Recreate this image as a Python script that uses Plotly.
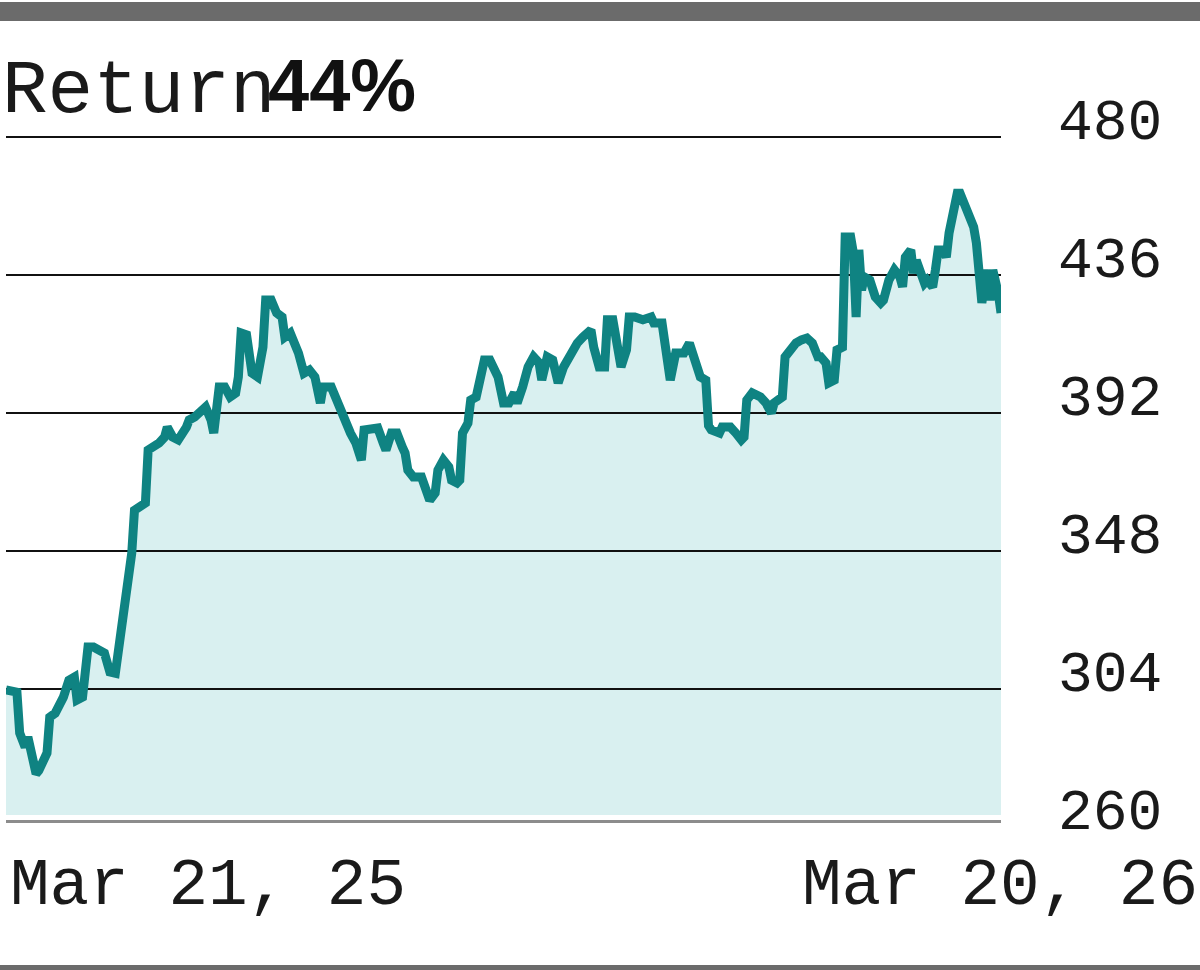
import pandas as pd
import plotly.graph_objects as go

# one year of closes (days counted from the first session)
START = pd.Timestamp("2025-03-21")
day_offsets = [
    0, 4, 5, 7, 8, 11, 12, 15, 16, 18, 21, 23, 25, 26, 28, 30, 32, 34, 36, 38,
    40, 42, 44, 46, 47, 49, 51, 52, 54, 56, 58, 59, 61, 63, 66, 67, 69, 71, 73, 75,
    76, 78, 80, 82, 84, 85, 86, 88, 90, 92, 94, 95, 97, 99, 101, 102, 104, 107, 109, 111,
    113, 115, 116, 119, 122, 124, 126, 128, 130, 131, 134, 136, 138, 139, 141, 143, 145, 146, 147, 149,
    152, 153, 155, 157, 158, 160, 162, 163, 165, 166, 167, 169, 170, 172, 174, 175, 177, 178, 180, 182,
    184, 186, 187, 189, 191, 193, 195, 196, 198, 200, 202, 204, 206, 209, 211, 214, 215, 217, 219, 220,
    222, 224, 225, 227, 228, 230, 233, 236, 237, 240, 241, 243, 245, 248, 250, 252, 254, 256, 257, 258,
    261, 262, 265, 267, 269, 270, 271, 273, 276, 278, 280, 281, 284, 285, 287, 289, 291, 293, 295, 297,
    298, 300, 301, 303, 304, 306, 307, 309, 310, 311, 312, 313, 314, 316, 318, 320, 321, 323, 325, 327,
    328, 329, 331, 332, 333, 334, 336, 337, 339, 340, 341, 343, 344, 345, 347, 348, 349, 351, 352, 354,
    355, 356, 357, 358, 359, 360, 361, 363, 364,
]
close = [
    303.7, 303.0, 290.0, 285.5, 288.7, 277.0, 278.0, 283.6, 295.0, 296.3, 301.4, 306.8, 307.8, 300.5, 301.4, 317.4, 317.4, 316.5, 315.5, 309.4,
    309.0, 321.8, 336.5, 347.3, 361.0, 362.0, 363.3, 380.2, 381.0, 382.4, 384.3, 387.5, 384.3, 383.4, 387.5, 389.8, 390.7, 392.0, 393.9, 389.8,
    385.6, 400.3, 400.3, 397.1, 398.3, 403.5, 417.5, 416.9, 404.7, 403.5, 413.0, 428.0, 428.0, 423.9, 422.6, 416.2, 417.5, 411.1, 404.7, 405.7,
    403.5, 395.2, 400.3, 400.3, 393.9, 388.8, 385.6, 382.4, 377.0, 386.6, 386.6, 387.2, 382.4, 380.2, 385.6, 385.6, 381.1, 379.2, 373.8, 371.6,
    371.6, 368.4, 364.2, 366.5, 373.8, 377.0, 374.8, 370.6, 369.7, 370.6, 385.6, 388.8, 396.1, 397.1, 404.7, 408.9, 408.9, 406.7, 403.5, 395.2,
    395.2, 398.4, 395.2, 400.3, 406.7, 409.9, 408.0, 402.5, 409.9, 408.9, 401.6, 406.7, 409.9, 414.3, 416.2, 418.5, 413.0, 406.7, 406.7, 421.7,
    421.7, 409.9, 406.7, 412.1, 422.6, 422.6, 421.7, 422.6, 420.7, 420.7, 413.0, 402.5, 411.1, 411.1, 414.3, 407.9, 403.5, 402.5, 388.0, 386.6,
    385.6, 387.5, 387.5, 385.6, 383.4, 384.3, 396.1, 398.4, 397.1, 395.2, 392.0, 395.2, 397.1, 409.9, 412.1, 414.3, 415.3, 415.9, 414.3, 409.9,
    409.9, 407.9, 401.6, 402.5, 412.1, 413.0, 448.1, 448.1, 443.0, 422.6, 444.0, 431.2, 435.4, 434.4, 429.0, 427.1, 428.0, 434.4, 437.6, 435.4,
    432.2, 441.7, 444.0, 436.6, 440.7, 437.6, 433.4, 434.4, 432.2, 437.6, 444.0, 444.0, 441.7, 449.4, 457.7, 462.1, 462.1, 457.7, 456.7, 451.3,
    446.2, 437.6, 427.1, 433.4, 437.6, 427.9, 437.6, 430.2, 423.9,
]
ytick_vals = [260, 304, 348, 392, 436, 480]
ytick_text = ["260", "304", "348", "392", "436", "480"]
date_labels = ["Mar 21, 25", "Mar 20, 26"]
title_word = "Return"
title_value = "44%"

dates = START + pd.to_timedelta(day_offsets, unit="D")

W, H = 1200, 970
MONO = "Liberation Mono, Courier New, monospace"
SANS = "Liberation Sans, Arial, sans-serif"
TEAL = "#0f8382"
FILL = "#d9f0f0"

# pixel geometry of the panel
TOP_PX, LINE_BOTTOM_PX, FILL_BOTTOM_PX, AXIS_PX = 100, 827, 815, 821
LEFT_PX, RIGHT_PX = 6, 1001
PX_PER_UNIT = (LINE_BOTTOM_PX - 137) / (ytick_vals[-1] - ytick_vals[0])


def fy(px):
    return (H - px) / H


def val_at(px):
    return ytick_vals[0] + (LINE_BOTTOM_PX - px) / PX_PER_UNIT


v_top = val_at(TOP_PX)
x_dom = [LEFT_PX / W, RIGHT_PX / W]
x_rng = [dates[0], dates[-1]]

fig = go.Figure()
# shaded area (own subplot, so the grid of the line subplot sits on top of it)
fig.add_trace(go.Scatter(x=dates, y=close, mode="lines", line=dict(width=0, color=FILL),
                         fill="tozeroy", fillcolor=FILL, hoverinfo="skip",
                         xaxis="x", yaxis="y", showlegend=False))
fig.add_trace(go.Scatter(x=dates, y=close, mode="lines", line=dict(width=9, color=TEAL),
                         xaxis="x2", yaxis="y2", showlegend=False))
# carrier for the right-hand price labels (draws nothing)
fig.add_trace(go.Scatter(x=dates, y=close, mode="lines", line=dict(width=0, color=TEAL),
                         opacity=0, hoverinfo="skip", xaxis="x2", yaxis="y3", showlegend=False))

hidden = dict(showgrid=False, zeroline=False, showticklabels=False, ticks="", showline=False,
              automargin=False)
fig.update_layout(
    width=W, height=H, autosize=False,
    margin=dict(l=0, r=0, t=0, b=0, autoexpand=False),
    paper_bgcolor="white", plot_bgcolor="rgba(0,0,0,0)",
    xaxis=dict(hidden, domain=x_dom, range=x_rng, anchor="free", position=fy(AXIS_PX),
               showline=True, linecolor="#8c8c8c", linewidth=3),
    yaxis=dict(hidden, domain=[fy(FILL_BOTTOM_PX), fy(TOP_PX)],
               range=[val_at(FILL_BOTTOM_PX), v_top], anchor="x"),
    xaxis2=dict(hidden, domain=x_dom, range=x_rng, anchor="y2"),
    yaxis2=dict(hidden, domain=[fy(LINE_BOTTOM_PX), fy(TOP_PX)],
                range=[ytick_vals[0], v_top], anchor="x2",
                showgrid=True, gridcolor="#111111", gridwidth=2,
                tickmode="array", tickvals=ytick_vals[1:]),
    yaxis3=dict(overlaying="y2", anchor="x2", side="right", automargin=False,
                range=[ytick_vals[0], v_top], showgrid=False, zeroline=False,
                tickmode="array", tickvals=ytick_vals, ticktext=ytick_text,
                ticks="", ticklabelshift=-18, ticklabelstandoff=56,
                tickfont=dict(family=MONO, size=58, color="#1a1a1a")),
    showlegend=False,
)

# title: "Return" + bold figure, overlapping like the original
fig.add_annotation(text=title_word, xref="paper", yref="paper", x=0, y=fy(92),
                   xanchor="left", yanchor="middle", showarrow=False,
                   font=dict(family=MONO, size=76, color="#1a1a1a"))
fig.add_annotation(text=f"<b>{title_value}</b>", xref="paper", yref="paper", x=266 / W, y=fy(85),
                   xanchor="left", yanchor="middle", showarrow=False,
                   font=dict(family=SANS, size=74, color="#111111"))

# first / last date under the axis
fig.add_annotation(text=date_labels[0], xref="paper", yref="paper", x=8 / W, y=fy(886),
                   xanchor="left", yanchor="middle", showarrow=False,
                   font=dict(family=MONO, size=66, color="#1a1a1a"))
fig.add_annotation(text=date_labels[1], xref="paper", yref="paper", x=1.0, y=fy(886),
                   xanchor="right", yanchor="middle", showarrow=False,
                   font=dict(family=MONO, size=66, color="#1a1a1a"))

# grey frame bars top and bottom
fig.add_shape(type="rect", xref="paper", yref="paper", x0=0, x1=1, y0=fy(21), y1=fy(2),
              fillcolor="#6b6b6b", line_width=0, layer="above")
fig.add_shape(type="rect", xref="paper", yref="paper", x0=0, x1=1, y0=0, y1=fy(965),
              fillcolor="#6b6b6b", line_width=0, layer="above")

fig.write_html("out.html", config={"displayModeBar": False},
               post_script="document.body.style.margin='0';document.body.style.overflow='hidden';")
